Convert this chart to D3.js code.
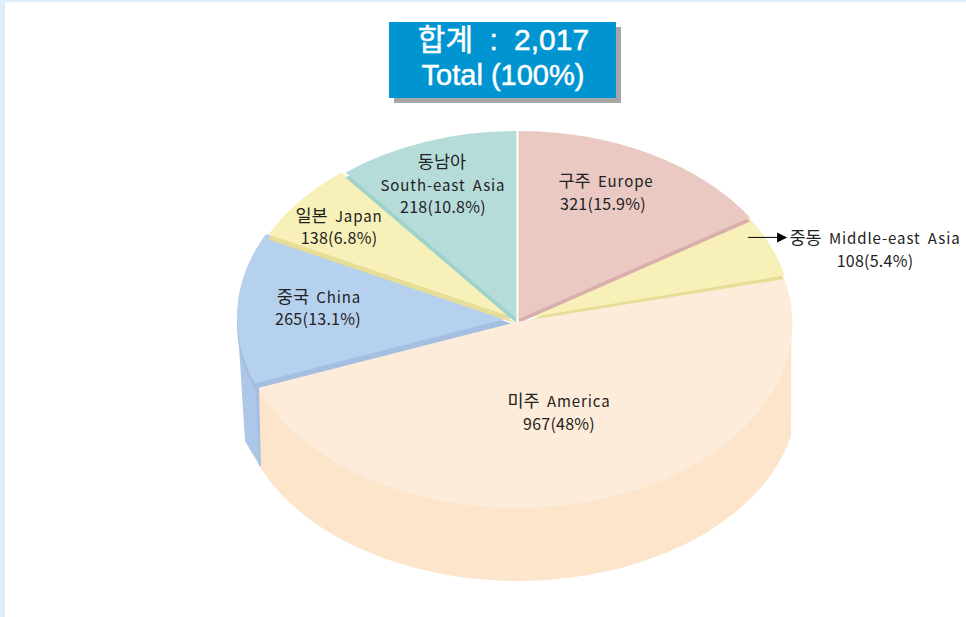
<!DOCTYPE html>
<html><head><meta charset="utf-8">
<script src="https://cdn.jsdelivr.net/npm/d3@7/dist/d3.min.js"></script>
<style>
html,body{margin:0;padding:0;background:#fff;overflow:hidden}
text{font-family:"Noto Sans CJK KR","Noto Sans",sans-serif;fill:#222}
</style></head><body>
<svg id="c" width="966" height="617"></svg>
<script>
const namesKo = ["구주","중동","미주","중국","일본","동남아"];
const namesEn = ["Europe","Middle-east Asia","America","China","Japan","South-east Asia"];
const values = [321,108,967,265,138,218];
const percents = ["15.9","5.4","48","13.1","6.8","10.8"];
const topColors = ["#eac9c3","#f7f0b8","#fdecd9","#b6d1ee","#f7f0b8","#b6dcda"];
const wallColors = ["#d9aeac","#e6dd97","#fdecd9","#a5bfe3","#e6dd97","#9dd3cb"];
// slice layout (same index order): centre and radii of each displaced slice
const sliceCx = [518.7,520,516.5,513,514.5,516.3];
const sliceCy = [319,319,322,317,318,318];
const sliceRx = [275,272,275.5,276,275,272];
const sliceRy = [188,188,185,186,187,187];
const sliceDrop = [4,6,0,7,5,5];
const drawOrder = [3,4,5,1,0,2];
const labelPos = [[606,182,603,204],[875,239,875,261],[559,402,559,424],[319,298,318,319],[339,217,339,238],[443,186,443,207]];

const svg = d3.select("#c");
svg.append("rect").attr("width",966).attr("height",2).attr("fill","#dceefb");
svg.append("rect").attr("width",5).attr("height",617).attr("fill","#dceefb");

const arcs = d3.pie().sort(null).value(d=>d)(values);
const arc = d3.arc().innerRadius(0).outerRadius(1);
const pt = (i,a)=>[sliceCx[i]+sliceRx[i]*Math.sin(a), sliceCy[i]-sliceRy[i]*Math.cos(a)];

// China's outer wall
const iC = 3, c = pt(iC,arcs[iC].startAngle);
svg.append("path").attr("fill","#acc7e7")
  .attr("d",d3.line()([[c[0]-17,c[1]-52],[c[0]+1,c[1]],[c[0]+5,c[1]+83],[c[0]-10,c[1]+58]]));
svg.append("path").attr("fill","#a5bfe3")
  .attr("d",d3.line()([[c[0],c[1]],[c[0]+6,c[1]],[c[0]+6,c[1]+83],[c[0]+4,c[1]+83]]));

function slice(i,dy,fill){
  svg.append("path").attr("fill",fill)
    .attr("transform",`translate(${sliceCx[i]},${sliceCy[i]+dy}) scale(${sliceRx[i]},${sliceRy[i]})`)
    .attr("d",arc(arcs[i]));
}
drawOrder.forEach(i=>{
  if(i===2){
    // America's outer wall
    const s = pt(2,arcs[2].endAngle);
    const ex=518, ey=395, erx=280, ery=186, xL=261, xR=791;
    const yAt = x=>ey+ery*Math.sqrt(1-Math.pow((x-ex)/erx,2));
    svg.append("path").attr("fill","#fde5cc")
      .attr("d",`M${s[0]},${s[1]}L${xL},${yAt(xL)}A${erx},${ery} 0 0 0 ${xR},${yAt(xR)}L${xR+0.5},${sliceCy[2]}Z`);
    slice(2,0,topColors[2]);
  } else {
    slice(i,sliceDrop[i],wallColors[i]);
    slice(i,0,topColors[i]);
  }
});

// labels
const koSize = 17.5, enSize = 15, numSize = 16, track = "0.9px";
namesEn.forEach((en,i)=>{
  const p = labelPos[i];
  const line2 = svg.append("text").attr("x",p[0]).attr("y",p[1]+5).attr("text-anchor","middle").attr("font-size",enSize).style("letter-spacing",track).style("word-spacing","3px");
  if(i===5){
    svg.append("text").attr("x",p[0]-1).attr("y",p[1]-18).attr("text-anchor","middle").attr("font-size",koSize).text(namesKo[i]);
  } else {
    line2.append("tspan").attr("font-size",koSize).style("letter-spacing","0").text(namesKo[i]);
    line2.append("tspan").text(" ");
  }
  line2.append("tspan").text(en);
  svg.append("text").attr("x",p[2]).attr("y",p[3]+6).attr("text-anchor","middle").attr("font-size",numSize).style("letter-spacing","0.25px").text(`${values[i]}(${percents[i]}%)`);
});

// arrow to the Middle-east slice
const a0 = pt(0,arcs[0].endAngle);
svg.append("line").attr("x1",a0[0]-2).attr("x2",a0[0]+28).attr("y1",a0[1]+20).attr("y2",a0[1]+20).attr("stroke","#000").attr("stroke-width",1);
svg.append("path").attr("fill","#000").attr("d",d3.line()([[a0[0]+27,a0[1]+15],[a0[0]+37,a0[1]+20],[a0[0]+27,a0[1]+25]]));

// total box
const total = d3.sum(values);
svg.append("rect").attr("x",394).attr("y",27).attr("width",227).attr("height",76).attr("fill","#a6a6a6");
svg.append("rect").attr("x",389).attr("y",22).attr("width",227).attr("height",76).attr("fill","#0095d0");
const titleStyle = s=>s.attr("text-anchor","middle").style("fill","#fff").style("stroke","#fff").style("stroke-width","0.5px");
svg.append("text").attr("x",503.5).attr("y",50).call(titleStyle).attr("font-size",30).style("word-spacing","8px").style("font-family","'Liberation Sans','Noto Sans CJK KR'").text(`합계 : ${d3.format(",")(total)}`);
svg.append("text").attr("x",503).attr("y",85).call(titleStyle).attr("font-size",29).style("font-family","Liberation Sans").text("Total (100%)");
</script></body></html>
